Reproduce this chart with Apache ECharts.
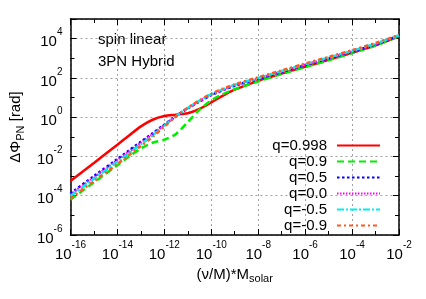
<!DOCTYPE html>
<html><head><meta charset="utf-8">
<script src="https://cdn.jsdelivr.net/npm/echarts@6/dist/echarts.min.js"></script>
<style>html,body{margin:0;padding:0;background:#fff}#c{width:426px;height:299px}</style>
</head><body><div id="c"></div>
<script>
// x: (nu/M)*M_solar
const xValues = [1e-16, 1e-15, 1e-14, 3.16e-14, 1e-13, 3.16e-13, 1e-12, 3.16e-12, 1e-11, 3.16e-11, 1e-10, 3.16e-10, 1e-9, 1e-8, 1e-7, 1e-6, 1e-5, 1e-4, 1e-3, 1e-2];
const seriesNames = ['q=0.998', 'q=0.9', 'q=0.5', 'q=0.0', 'q=-0.5', 'q=-0.9'];
const yQ0998 = [5.62e-4, 4.68e-3, 3.98e-2, 1.17e-1, 3.39e-1, 7.41e-1, 1.148, 1.349, 1.585, 2.63, 5.62, 12.59, 25.1, 70.8, 166, 372, 832, 1905, 4571, 13180];
const yQ09 = [6.31e-5, 4.79e-4, 3.55e-3, 1.0e-2, 2.51e-2, 5.01e-2, 7.08e-2, 1.41e-1, 5.62e-1, 2.40, 7.08, 15.1, 26.3, 66.1, 158, 355, 794, 1862, 4467, 13180];
const yQ05 = [1.32e-4, 1.0e-3, 7.41e-3, 2.04e-2, 5.62e-2, 1.51e-1, 4.17e-1, 1.15, 2.82, 6.31, 13.2, 24.0, 39.8, 89.1, 200, 447, 977, 2138, 5012, 14130];
const yQ00 = [1.15e-4, 8.71e-4, 6.46e-3, 1.78e-2, 4.90e-2, 1.35e-1, 3.98e-1, 1.15, 2.88, 6.61, 13.8, 25.1, 41.7, 93.3, 209, 468, 1023, 2239, 5248, 14450];
const yQm05 = [9.55e-5, 7.24e-4, 5.37e-3, 1.48e-2, 4.17e-2, 1.17e-1, 3.63e-1, 1.12, 2.95, 6.92, 14.8, 26.9, 44.7, 100, 224, 501, 1096, 2399, 5623, 14790];
const yQm09 = [7.24e-5, 5.50e-4, 4.17e-3, 1.17e-2, 3.39e-2, 1.0e-1, 3.31e-1, 1.10, 3.02, 7.24, 15.5, 28.2, 46.8, 107, 240, 537, 1175, 2570, 6026, 15140];
const xTickExponents = [-16, -14, -12, -10, -8, -6, -4, -2];
const yTickExponents = [-6, -4, -2, 0, 2, 4];

const FONT = 'Liberation Sans';
const colors = ['#ff0000', '#00ee00', '#0000ff', '#ff00ff', '#00eeee', '#ff5a1e'];
const dashes = ['solid', [7, 4], [2.5, 2.5], [1.5, 1.5], [7, 2, 2, 2], [4, 3, 2, 3]];
const allY = [yQ0998, yQ09, yQ05, yQ00, yQm05, yQm09];

const rich = {
  b: { fontSize: 15, fontFamily: FONT, color: '#000', lineHeight: 22, verticalAlign: 'bottom' },
  s: { fontSize: 10, fontFamily: FONT, color: '#000', lineHeight: 8, verticalAlign: 'top' }
};
function expOf(v) { return Math.round(Math.log10(v)); }
function labelFmt(list) {
  return function (v) { const e = expOf(v); return list.indexOf(e) >= 0 ? '{b|10}{s|' + e + '}' : ''; };
}
const nameRich = {
  a: { fontSize: 15, fontFamily: FONT, color: '#000', lineHeight: 18, verticalAlign: 'top' },
  s: { fontSize: 11, fontFamily: FONT, color: '#000', lineHeight: 8, verticalAlign: 'bottom' }
};
const blackLine = { show: true, lineStyle: { color: '#000', width: 1.5 } };
const noLine = { show: false };
// major axes: base-100 log scale (a tick every two decades); minor axes: base-10 (every decade)
function xAx(pos, major, extra) {
  return Object.assign({
    type: 'log', logBase: major ? 100 : 10, min: 1e-16, max: 1e-2, interval: 1, position: pos,
    axisLine: major ? blackLine : noLine,
    axisTick: { show: true, inside: true, length: major ? 6 : 4, lineStyle: { color: '#000', width: 1 } },
    axisLabel: { show: false }, splitLine: { show: false }
  }, extra || {});
}
function yAx(pos, major, extra) {
  return Object.assign({
    type: 'log', logBase: major ? 100 : 10, min: 1e-6, max: 1e5, interval: 1, position: pos,
    axisLine: major ? blackLine : noLine,
    axisTick: { show: true, inside: true, length: major ? 6 : 4, lineStyle: { color: '#000', width: 1 } },
    axisLabel: { show: false }, splitLine: { show: false }
  }, extra || {});
}
const gridLine = { show: true, lineStyle: { color: '#a0a0a0', width: 1, type: [2, 3] } };

const chart = echarts.init(document.getElementById('c'), null, { renderer: 'canvas' });
chart.setOption({
  animation: false,
  backgroundColor: '#fff',
  grid: { left: 65, right: 27, top: 19, bottom: 64, containLabel: false },
  xAxis: [
    xAx('bottom', true, {
      axisLabel: { show: true, margin: 5, formatter: labelFmt(xTickExponents), rich: rich },
      splitLine: gridLine,
      name: '{a|(ν/M)*M}{s|solar}', nameLocation: 'middle', nameGap: 25, nameTextStyle: { rich: nameRich }
    }),
    xAx('bottom', false),
    xAx('top', true),
    xAx('top', false)
  ],
  yAxis: [
    yAx('left', true, {
      axisLabel: { show: true, margin: 8, formatter: labelFmt(yTickExponents), rich: rich },
      splitLine: gridLine,
      name: '{a|ΔΦ}{s|PN}{a| [rad]}', nameLocation: 'middle', nameGap: 42, nameTextStyle: { rich: nameRich }
    }),
    yAx('left', false),
    yAx('right', true),
    yAx('right', false)
  ],
  legend: {
    data: seriesNames, orient: 'vertical', right: 40, top: 133, align: 'right',
    itemWidth: 43, itemHeight: 14, itemGap: 1,
    itemStyle: { opacity: 0 },
    textStyle: { fontSize: 15, fontFamily: FONT, color: '#000', lineHeight: 14, padding: [0, 5, 0, 0] }
  },
  graphic: [
    { type: 'text', left: 98, top: 32, style: { text: 'spin linear', font: '15px "Liberation Sans"', fill: '#000' } },
    { type: 'text', left: 98, top: 54, style: { text: '3PN Hybrid', font: '15px "Liberation Sans"', fill: '#000' } }
  ],
  series: seriesNames.map(function (name, k) {
    return {
      name: name, type: 'line', xAxisIndex: 0, yAxisIndex: 0,
      data: xValues.map(function (x, i) { return [x, allY[k][i]]; }),
      symbol: 'none', showSymbol: false, smooth: 0.3,
      lineStyle: { color: colors[k], width: 2.5, type: dashes[k], cap: 'butt' },
      itemStyle: { color: colors[k] }
    };
  })
});
</script></body></html>
